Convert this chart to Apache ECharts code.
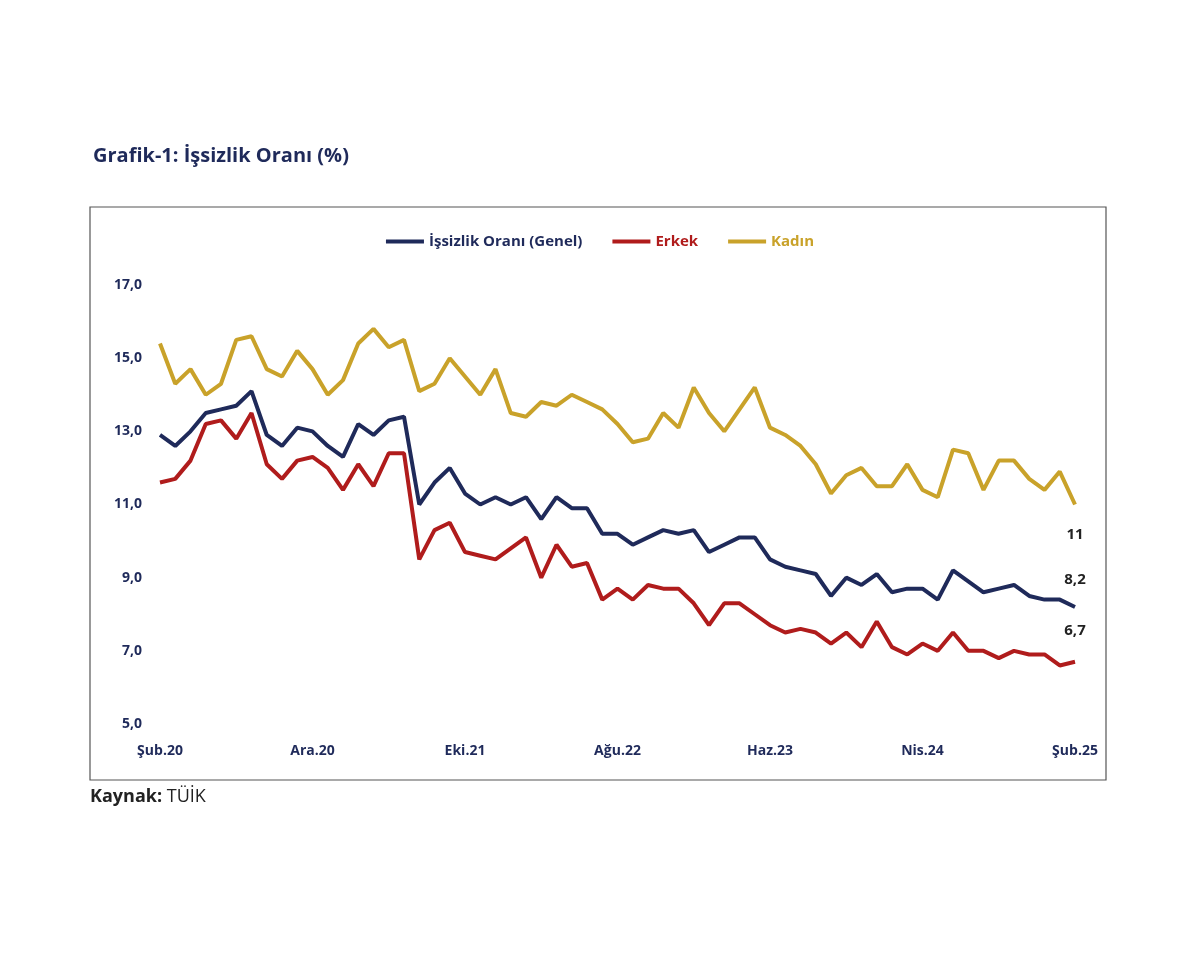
<!DOCTYPE html>
<html>
<head>
<meta charset="utf-8">
<script src="https://cdn.jsdelivr.net/npm/echarts@6/dist/echarts.min.js"></script>
<style>
  html, body { margin: 0; padding: 0; background: #fff; }
  #chart { width: 1200px; height: 960px; }
</style>
</head>
<body>
<div id="chart"></div>
<script>
// aylar: Şub.20 - Şub.25
const monthNames = ["Oca", "Şub", "Mar", "Nis", "May", "Haz", "Tem", "Ağu", "Eyl", "Eki", "Kas", "Ara"];
const categories = [];
for (let i = 0; i < 61; i++) {
    const m = (1 + i) % 12;
    const y = 20 + Math.floor((1 + i) / 12);
    categories.push(monthNames[m] + "." + y);
}

const genel = [12.9, 12.6, 13.0, 13.5, 13.6, 13.7, 14.1, 12.9, 12.6, 13.1,
    13.0, 12.6, 12.3, 13.2, 12.9, 13.3, 13.4, 11.0, 11.6, 12.0,
    11.3, 11.0, 11.2, 11.0, 11.2, 10.6, 11.2, 10.9, 10.9, 10.2,
    10.2, 9.9, 10.1, 10.3, 10.2, 10.3, 9.7, 9.9, 10.1, 10.1,
    9.5, 9.3, 9.2, 9.1, 8.5, 9.0, 8.8, 9.1, 8.6, 8.7,
    8.7, 8.4, 9.2, 8.9, 8.6, 8.7, 8.8, 8.5, 8.4, 8.4, 8.2];
const erkek = [11.6, 11.7, 12.2, 13.2, 13.3, 12.8, 13.5, 12.1, 11.7, 12.2,
    12.3, 12.0, 11.4, 12.1, 11.5, 12.4, 12.4, 9.5, 10.3, 10.5,
    9.7, 9.6, 9.5, 9.8, 10.1, 9.0, 9.9, 9.3, 9.4, 8.4,
    8.7, 8.4, 8.8, 8.7, 8.7, 8.3, 7.7, 8.3, 8.3, 8.0,
    7.7, 7.5, 7.6, 7.5, 7.2, 7.5, 7.1, 7.8, 7.1, 6.9,
    7.2, 7.0, 7.5, 7.0, 7.0, 6.8, 7.0, 6.9, 6.9, 6.6, 6.7];
const kadin = [15.4, 14.3, 14.7, 14.0, 14.3, 15.5, 15.6, 14.7, 14.5, 15.2,
    14.7, 14.0, 14.4, 15.4, 15.8, 15.3, 15.5, 14.1, 14.3, 15.0,
    14.5, 14.0, 14.7, 13.5, 13.4, 13.8, 13.7, 14.0, 13.8, 13.6,
    13.2, 12.7, 12.8, 13.5, 13.1, 14.2, 13.5, 13.0, 13.6, 14.2,
    13.1, 12.9, 12.6, 12.1, 11.3, 11.8, 12.0, 11.5, 11.5, 12.1,
    11.4, 11.2, 12.5, 12.4, 11.4, 12.2, 12.2, 11.7, 11.4, 11.9, 11.0];
const yTicks = [5, 7, 9, 11, 13, 15, 17];

const chart = echarts.init(document.getElementById("chart"));
const font = "Open Sans";

function endLabel(text, dy) {
    return {
        show: true, formatter: text, distance: 0, align: "center", offset: [0, dy],
        color: "#222", fontWeight: "bold", fontSize: 15, fontFamily: font
    };
}

chart.setOption({
    animation: false,
    textStyle: { fontFamily: font },
    title: {
        text: "Grafik-1: İşsizlik Oranı (%)",
        left: 88, top: 141,
        textStyle: { color: "#1f2a5a", fontSize: 20, fontWeight: "bold", fontFamily: font }
    },
    graphic: [
        { type: "rect", shape: { x: 90, y: 207, width: 1016, height: 573 },
          style: { fill: "none", stroke: "#555", lineWidth: 1.2 } },
        { type: "text", left: 90, top: 788,
          style: { text: "{b|Kaynak:} TÜİK", fontSize: 18, fill: "#222", fontFamily: font,
              rich: { b: { fontWeight: "bold", fontSize: 18, fill: "#222", fontFamily: font } } } }
    ],
    legend: {
        top: 229, left: "center", itemGap: 30, itemWidth: 38, itemHeight: 4,
        icon: "rect",
        data: [
            { name: "İşsizlik Oranı (Genel)", textStyle: { color: "#1f2a5a" } },
            { name: "Erkek", textStyle: { color: "#b01c1c" } },
            { name: "Kadın", textStyle: { color: "#c9a22a" } }
        ],
        textStyle: { fontWeight: "bold", fontSize: 15, fontFamily: font }
    },
    grid: { left: 160, right: 125, top: 285, bottom: 236 },
    xAxis: {
        type: "category", data: categories, boundaryGap: false,
        axisLine: { show: false }, axisTick: { show: false },
        axisLabel: { interval: 9, color: "#1f2a5a", fontWeight: "bold", fontSize: 14, margin: 20, fontFamily: font }
    },
    yAxis: {
        type: "value", min: yTicks[0], max: yTicks[yTicks.length - 1], interval: 2,
        splitLine: { show: false }, axisLine: { show: false }, axisTick: { show: false },
        axisLabel: { color: "#1f2a5a", fontWeight: "bold", fontSize: 14, margin: 18, fontFamily: font,
            formatter: v => v.toFixed(1).replace(".", ",") }
    },
    series: [
        { name: "İşsizlik Oranı (Genel)", type: "line", data: genel, endLabel: endLabel("8,2", -27),
          symbol: "none", lineStyle: { width: 4, color: "#1f2a5a" }, itemStyle: { color: "#1f2a5a" } },
        { name: "Erkek", type: "line", data: erkek, endLabel: endLabel("6,7", -31),
          symbol: "none", lineStyle: { width: 4, color: "#b01c1c" }, itemStyle: { color: "#b01c1c" } },
        { name: "Kadın", type: "line", data: kadin, endLabel: endLabel("11", 30),
          symbol: "none", lineStyle: { width: 4, color: "#c9a22a" }, itemStyle: { color: "#c9a22a" } }
    ]
});
</script>
</body>
</html>
